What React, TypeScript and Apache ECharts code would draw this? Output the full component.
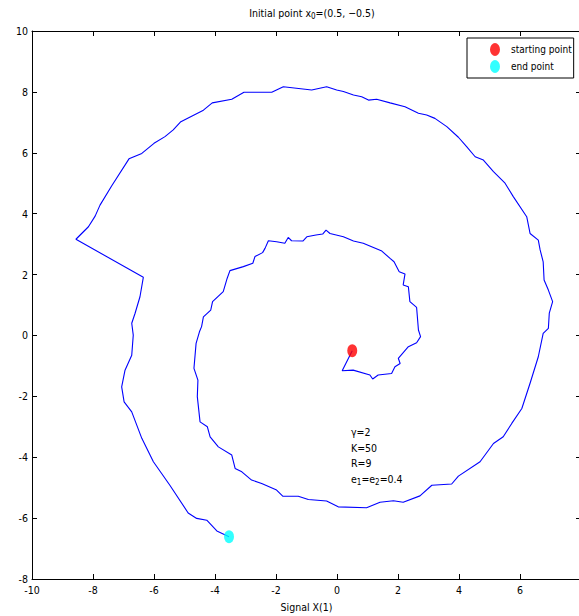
import React, { useEffect, useRef } from "react";
import * as echarts from "echarts";

const trajX = [
  0.5, 0.17, 0.53, 1.08, 1.17, 1.35, 1.79, 1.9, 2.07, 2.01, 2.34, 2.61, 2.74, 2.67, 2.61, 2.39, 2.34, 2.17, 2.23, 2.04,
  1.87, 1.74, 1.47, 0.86, 0.54, 0.21, -0.23, -0.36, -0.47, -0.69, -0.99, -1.12, -1.49, -1.6, -1.71, -1.98, -2.25, -2.36, -2.44, -2.69,
  -2.76, -3.07, -3.51, -3.6, -3.73, -4.08, -4.14, -4.38, -4.44, -4.51, -4.62, -4.69, -4.56, -4.58, -4.49, -4.25, -4.16, -3.89, -3.45, -3.34,
  -3.12, -2.8, -2.47, -1.98, -1.78, -1.27, -0.94, -0.34, 0.04, 0.97, 1.41, 1.85, 2.17, 2.72, 3.11, 3.76, 3.98, 4.69, 5.13, 5.45,
  5.73, 6.06, 6.33, 6.6, 6.76, 6.93, 6.96, 7.07, 6.93, 6.79, 6.76, 6.66, 6.6, 6.33, 6.22, 5.78, 5.51, 5.13, 4.8, 4.53,
  4.25, 3.98, 3.6, 3.21, 2.94, 2.67, 2.23, 1.74, 1.3, 1.03, 0.81, 0.54, 0.21, -0.01, -0.34, -0.83, -1.76, -2.14, -3.05, -3.45,
  -4.09, -4.38, -5.12, -5.37, -5.64, -6.0, -6.4, -6.82, -7.39, -7.77, -7.93, -8.15, -8.56, -6.35, -6.46, -6.62, -6.73, -6.68, -6.73, -6.95,
  -7.06, -6.98, -6.73, -6.4, -6.02, -5.48, -4.88, -4.6, -4.27, -3.94, -3.54,
];
const trajY = [
  -0.5, -1.16, -1.14, -1.3, -1.43, -1.3, -1.25, -1.03, -0.92, -0.75, -0.37, -0.24, -0.04, 0.18, 0.92, 1.11, 1.6, 1.66, 2.02, 2.09,
  2.42, 2.53, 2.77, 3.03, 3.1, 3.24, 3.35, 3.46, 3.33, 3.3, 3.24, 3.1, 3.11, 3.22, 3.03, 3.08, 3.11, 2.86, 2.72, 2.59,
  2.37, 2.26, 2.13, 1.88, 1.44, 1.11, 0.83, 0.61, 0.29, 0.12, -0.26, -1.08, -1.47, -2.01, -2.84, -3.0, -3.33, -3.66, -3.93, -4.37,
  -4.48, -4.75, -4.86, -5.08, -5.28, -5.28, -5.39, -5.44, -5.63, -5.66, -5.48, -5.43, -5.48, -5.27, -4.92, -4.88, -4.62, -4.15, -3.55, -3.33,
  -2.89, -2.4, -1.57, -0.7, 0.07, 0.23, 0.73, 1.11, 1.49, 1.82, 2.42, 2.81, 3.13, 3.35, 3.9, 4.56, 5.0, 5.38, 5.76, 5.87,
  6.2, 6.51, 6.86, 7.13, 7.24, 7.3, 7.51, 7.64, 7.76, 7.73, 7.84, 7.9, 8.01, 8.06, 8.17, 8.06, 8.17, 7.99, 7.99, 7.76,
  7.64, 7.4, 7.02, 6.75, 6.53, 6.31, 5.98, 5.8, 4.91, 4.28, 3.92, 3.57, 3.16, 1.91, 1.27, 0.73, 0.4, 0.01, -0.65, -1.14,
  -1.69, -2.18, -2.51, -3.38, -4.15, -4.92, -5.83, -6.01, -6.07, -6.42, -6.61,
];
const startPoint = [0.5, -0.5];
const endPoint = [-3.54, -6.61];
const seriesNames = ["starting point", "end point"];
const paramLines = ["γ=2", "K=50", "R=9", "e{sub|1}=e{sub|2}=0.4"];
const titleText = "Initial point x{sub|0}=(0.5, −0.5)";
const xName = "Signal X(1)";
const yName = "Signal X(2)";

const FONT = "'Liberation Sans Narrow', 'DejaVu Sans Condensed', 'Liberation Sans', sans-serif";
const ELLIPSE = "path://M5,0 A5,6.5 0 1,1 5,13 A5,6.5 0 1,1 5,0 Z";

export default function App() {
  const ref = useRef<HTMLDivElement>(null);
  useEffect(() => {
    if (!ref.current) return;
    const chart = echarts.init(ref.current, undefined, { renderer: "svg" });
    const lineData = trajX.map((x, i) => [x, trajY[i]]);
    const axisCommon = {
      type: "value" as const,
      axisLine: { show: true, onZero: false, lineStyle: { color: "#000", width: 1 } },
      axisTick: { show: true, inside: true, length: 5, lineStyle: { color: "#000" } },
      splitLine: { show: false },
    };
    const labelStyle = { color: "#000", fontSize: 10.5, fontFamily: FONT };
    chart.setOption({
      animation: false,
      backgroundColor: "#fff",
      title: {
        text: titleText,
        left: 307,
        top: 0,
        textAlign: "center",
        textStyle: {
          color: "#000",
          fontSize: 10.5,
          fontWeight: "normal",
          fontFamily: FONT,
          rich: { sub: { fontSize: 8, fontFamily: FONT, color: "#000", padding: [7, 0, 0, 0] } },
        },
      },
      grid: { left: 32, top: 31, width: 549, height: 548, containLabel: false, outerBoundsMode: "none" },
      xAxis: [
        {
          ...axisCommon,
          min: -10,
          max: 8,
          interval: 2,
          position: "bottom",
          axisLabel: { ...labelStyle, margin: 5, showMaxLabel: false },
          name: xName,
          nameLocation: "middle",
          nameGap: 22,
          nameTextStyle: labelStyle,
        },
        {
          ...axisCommon,
          min: -10,
          max: 8,
          interval: 2,
          position: "top",
          axisLabel: { show: false },
        },
      ],
      yAxis: [
        {
          ...axisCommon,
          min: -8,
          max: 10,
          interval: 2,
          position: "left",
          axisLabel: { ...labelStyle, margin: 4 },
          name: yName,
          nameLocation: "middle",
          nameGap: 36,
          nameRotate: 90,
          nameTextStyle: labelStyle,
        },
        {
          ...axisCommon,
          min: -8,
          max: 10,
          interval: 2,
          position: "right",
          axisLabel: { show: false },
        },
      ],
      legend: {
        orient: "vertical",
        left: 467,
        top: 38,
        itemWidth: 22,
        itemHeight: 13,
        itemGap: 4,
        padding: [5, 2, 5, 23],
        borderColor: "#000",
        borderWidth: 1,
        backgroundColor: "#fff",
        symbolKeepAspect: true,
        textStyle: { color: "#000", fontSize: 10, fontFamily: FONT },
        data: [
          { name: seriesNames[0], icon: ELLIPSE },
          { name: seriesNames[1], icon: ELLIPSE },
        ],
      },
      graphic: [
        {
          type: "text",
          left: 351,
          top: 424,
          style: {
            text: paramLines.join("\n"),
            fill: "#000",
            fontSize: 10.5,
            fontFamily: FONT,
            lineHeight: 15.7,
            rich: { sub: { fontSize: 8, fontFamily: FONT, fill: "#000", padding: [7, 0, 0, 0], lineHeight: 15.7 } },
          },
        },
      ],
      series: [
        {
          type: "line",
          name: "trajectory",
          data: lineData,
          showSymbol: false,
          symbol: "none",
          lineStyle: { color: "#0000ff", width: 1.1 },
          z: 2,
        },
        {
          type: "scatter",
          name: seriesNames[0],
          data: [startPoint],
          symbol: ELLIPSE,
          symbolSize: [10, 13],
          itemStyle: { color: "#ff0000" },
          z: 3,
        },
        {
          type: "scatter",
          name: seriesNames[1],
          data: [endPoint],
          symbol: ELLIPSE,
          symbolSize: [10, 13],
          itemStyle: { color: "#00ffff" },
          z: 3,
        },
      ],
    });
    return () => chart.dispose();
  }, []);
  return (
    <div
      ref={ref}
      style={{ position: "fixed", left: 0, top: 0, width: 579, height: 616, background: "#fff" }}
    />
  );
}
